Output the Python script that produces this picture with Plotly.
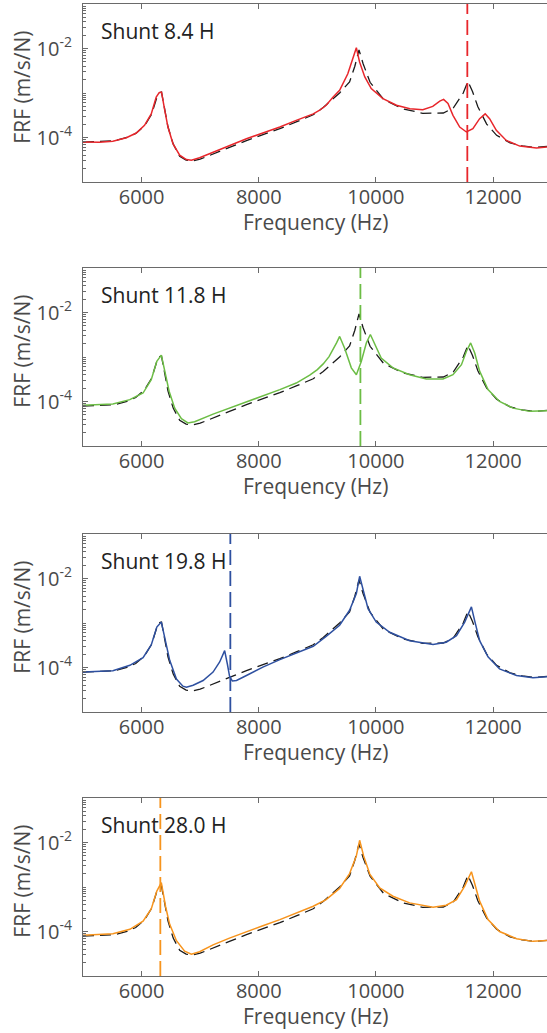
import plotly.graph_objects as go
from plotly.subplots import make_subplots

# ---------------- data ----------------
# reference FRF (black dashed), common to all panels
freq_ref = [5000, 5300, 5550, 5750, 5900, 6050, 6170, 6260, 6310, 6340, 6395, 6450, 6540, 6650,
            6760, 6860, 7000, 7220, 7500, 7790, 8070, 8360, 8640, 8930, 9100, 9210, 9380, 9550,
            9640, 9711, 9780, 9900, 10130, 10460, 10800, 11150, 11320, 11490, 11570, 11650,
            11740, 11890, 12060, 12290, 12500, 12700, 12920]
frf_ref = [7.9e-5, 8.1e-5, 8.5e-5, 1.0e-4, 1.23e-4, 1.82e-4, 3.3e-4, 7.9e-4, 1.02e-3, 1.05e-3,
           4.4e-4, 1.74e-4, 7.1e-5, 3.8e-5, 3.1e-5, 2.95e-5, 3.25e-5, 4.3e-5, 6.0e-5, 8.5e-5,
           1.15e-4, 1.58e-4, 2.24e-4, 3.24e-4, 4.7e-4, 6.3e-4, 1.0e-3, 1.78e-3, 4.0e-3, 9.3e-3,
           4.6e-3, 1.74e-3, 7.2e-4, 4.4e-4, 3.5e-4, 3.55e-4, 4.6e-4, 1.0e-3, 1.82e-3, 1.07e-3,
           4.9e-4, 2.0e-4, 1.12e-4, 7.6e-5, 6.5e-5, 6.0e-5, 6.3e-5]

# shunt 8.4 H (red)
freq_84 = [5000, 5280, 5510, 5740, 5910, 6050, 6165, 6250, 6300, 6340, 6395, 6450, 6535, 6650,
           6765, 6850, 6990, 7220, 7500, 7790, 8070, 8360, 8640, 8930, 9040, 9150, 9270, 9380,
           9520, 9610, 9666, 9720, 9810, 9920, 10120, 10350, 10580, 10800, 10970, 11090, 11155,
           11230, 11315, 11430, 11545, 11655, 11770, 11865, 11940, 12055, 12225, 12455, 12740, 12920]
frf_84 = [7.9e-5, 7.8e-5, 8.2e-5, 9.9e-5, 1.26e-4, 1.87e-4, 3.4e-4, 8.1e-4, 1.02e-3, 1.05e-3,
          4.1e-4, 1.72e-4, 7.3e-5, 4.0e-5, 3.2e-5, 3.07e-5, 3.5e-5, 4.7e-5, 6.7e-5, 9.4e-5,
          1.26e-4, 1.72e-4, 2.43e-4, 3.4e-4, 4.1e-4, 5.3e-4, 8.1e-4, 1.15e-3, 2.7e-3, 5.9e-3,
          1.04e-2, 5.0e-3, 2.3e-3, 1.26e-3, 7.5e-4, 5.3e-4, 4.45e-4, 4.2e-4, 5.0e-4, 6.6e-4,
          7.2e-4, 5.8e-4, 3.15e-4, 1.72e-4, 1.33e-4, 1.58e-4, 2.65e-4, 3.4e-4, 2.65e-4, 1.45e-4,
          8.6e-5, 6.4e-5, 5.8e-5, 6.1e-5]

# shunt 11.8 H (green)
freq_118 = [5000, 5510, 5800, 6025, 6165, 6260, 6337, 6395, 6470, 6565, 6680, 6790, 6905, 7220,
            7500, 7790, 8070, 8360, 8640, 8870, 9000, 9100, 9200, 9270, 9330, 9381, 9466, 9580,
            9666, 9750, 9836, 9905, 9980, 10090, 10290, 10575, 10860, 11145, 11315, 11460, 11545,
            11617, 11686, 11770, 11913, 12110, 12340, 12625, 12920]
frf_118 = [8.2e-5, 8.8e-5, 1.1e-4, 1.55e-4, 3.1e-4, 8.0e-4, 1.1e-3, 4.8e-4, 1.7e-4, 7.1e-5,
           4.1e-5, 3.3e-5, 3.5e-5, 5.2e-5, 7.1e-5, 9.5e-5, 1.3e-4, 1.85e-4, 2.6e-4, 3.9e-4,
           5.2e-4, 7.0e-4, 1.02e-3, 1.46e-3, 2.1e-3, 2.9e-3, 1.58e-3, 5.7e-4, 4.0e-4, 7.9e-4,
           2.07e-3, 3.2e-3, 1.9e-3, 9.5e-4, 5.7e-4, 4.0e-4, 3.2e-4, 3.2e-4, 4.0e-4, 6.7e-4,
           1.35e-3, 2.07e-3, 1.23e-3, 4.8e-4, 1.85e-4, 1.0e-4, 7.1e-5, 6.0e-5, 6.2e-5]

# shunt 19.8 H (blue)
freq_198 = [5000, 5510, 5800, 6025, 6165, 6260, 6337, 6395, 6480, 6595, 6705, 6765, 6880, 7050,
            7220, 7333, 7418, 7464, 7504, 7550, 7620, 7790, 8070, 8360, 8640, 8930, 9150, 9380,
            9550, 9666, 9722, 9780, 9865, 10005, 10235, 10575, 10975, 11200, 11375, 11515, 11630,
            11686, 11770, 11913, 12110, 12400, 12680, 12920]
frf_198 = [7.9e-5, 8.5e-5, 1.12e-4, 1.66e-4, 3.2e-4, 8.1e-4, 1.05e-3, 4.9e-4, 1.45e-4, 5.5e-5,
           3.8e-5, 3.6e-5, 4.0e-5, 5.1e-5, 7.9e-5, 1.33e-4, 2.4e-4, 1.2e-4, 6.1e-5, 5.0e-5,
           5.1e-5, 6.6e-5, 1.02e-4, 1.5e-4, 2.1e-4, 3.0e-4, 5.0e-4, 8.9e-4, 1.93e-3, 4.6e-3,
           1.12e-2, 5.4e-3, 2.1e-3, 1.05e-3, 6.2e-4, 4.0e-4, 3.3e-4, 3.7e-4, 5.2e-4, 1.05e-3,
           2.3e-3, 1.12e-3, 4.0e-4, 1.74e-4, 9.3e-5, 6.6e-5, 5.9e-5, 6.2e-5]

# shunt 28.0 H (orange)
freq_280 = [5000, 5510, 5800, 6025, 6165, 6260, 6337, 6410, 6480, 6595, 6735, 6850, 6990, 7220,
            7500, 7790, 8070, 8360, 8640, 8930, 9150, 9380, 9550, 9666, 9722, 9790, 9895, 10065,
            10290, 10575, 10975, 11200, 11375, 11515, 11630, 11686, 11770, 11913, 12110, 12400,
            12680, 12920]
frf_280 = [8.2e-5, 8.9e-5, 1.12e-4, 1.7e-4, 3.2e-4, 8.1e-4, 1.26e-3, 3.6e-4, 1.45e-4, 6.2e-5,
           3.6e-5, 3.1e-5, 3.5e-5, 5.0e-5, 7.1e-5, 1.0e-4, 1.35e-4, 1.85e-4, 2.6e-4, 3.7e-4,
           5.2e-4, 9.3e-4, 2.0e-3, 5.0e-3, 1.12e-2, 5.0e-3, 1.95e-3, 9.5e-4, 6.2e-4, 4.4e-4,
           3.5e-4, 3.9e-4, 5.2e-4, 1.05e-3, 2.2e-3, 1.26e-3, 4.8e-4, 1.85e-4, 1.0e-4, 6.9e-5,
           6.0e-5, 6.3e-5]

shunt_labels = ["Shunt 8.4 H", "Shunt 11.8 H", "Shunt 19.8 H", "Shunt 28.0 H"]
shunt_tuning_hz = [11560, 9735, 7515, 6320]
x_ticks = [6000, 8000, 10000, 12000]
x_ticktext = ["6000", "8000", "10000", "12000"]
y_ticks = [1e-4, 1e-2]
y_ticktext = ["10<sup>-4</sup>", "10<sup>-2</sup>"]

# ---------------- styling ----------------
colors = ["#e8262b", "#6cbd45", "#2e50a0", "#f7941d"]
series = [(freq_84, frf_84), (freq_118, frf_118), (freq_198, frf_198), (freq_280, frf_280)]
FONT = "Open Sans"
AXC = "#6a6a6a"
TXT = "#4a4a4a"
W, H = 547, 1033
panel_tops = [4, 268, 534, 798]
panel_h = 178

fig = make_subplots(rows=4, cols=1)

for i, ((fx, fy), col) in enumerate(zip(series, colors)):
    r = i + 1
    fig.add_trace(go.Scatter(x=freq_ref, y=frf_ref, mode="lines",
                             line=dict(color="#1a1a1a", width=1.3, dash="11px,6px"),
                             showlegend=False, hoverinfo="skip"), row=r, col=1)
    fig.add_trace(go.Scatter(x=fx, y=fy, mode="lines",
                             line=dict(color=col, width=1.5),
                             showlegend=False), row=r, col=1)

    top = panel_tops[i]
    dom = [1 - (top + panel_h) / H, 1 - top / H]
    xa = "xaxis" if r == 1 else f"xaxis{r}"
    ya = "yaxis" if r == 1 else f"yaxis{r}"
    fig.layout[xa].update(domain=[0, 1], range=[5000, 12920], tickmode="array",
                          tickvals=x_ticks, ticktext=x_ticktext, automargin=False,
                          ticks="inside", ticklen=5, tickcolor=AXC, showline=True,
                          linecolor=AXC, linewidth=1, mirror="ticks", showgrid=False,
                          zeroline=False, tickfont=dict(family=FONT, size=20, color=TXT),
                          ticklabelstandoff=-3)
    fig.layout[ya].update(domain=dom, type="log", range=[-5, -1], tickmode="array",
                          tickvals=y_ticks, ticktext=y_ticktext, automargin=False,
                          ticks="inside", ticklen=5, tickcolor=AXC,
                          showline=True, linecolor=AXC, linewidth=1, showgrid=False,
                          zeroline=False, tickfont=dict(family=FONT, size=20, color=TXT),
                          ticklabelstandoff=6,
                          minor=dict(ticks="inside", ticklen=3, tickcolor=AXC, dtick="D1",
                                     showgrid=False))

    xd = "x domain" if r == 1 else f"x{r} domain"
    yd = "y domain" if r == 1 else f"y{r} domain"
    xr = "x" if r == 1 else f"x{r}"
    # shunt tuning frequency marker
    fig.add_shape(type="line", xref=xr, yref=yd, x0=shunt_tuning_hz[i], x1=shunt_tuning_hz[i],
                  y0=0, y1=1, line=dict(color=col, width=1.8, dash="15px,6px"), layer="above")
    # panel label
    fig.add_annotation(xref=xd, yref=yd, x=(99 - 83) / 464, y=(panel_h - 27) / panel_h,
                       text=shunt_labels[i], showarrow=False, xanchor="left", yanchor="middle",
                       font=dict(family=FONT, size=21, color="#222222"))
    # axis titles
    fig.add_annotation(xref=xd, yref=yd, x=0.5, y=-40 / panel_h, text="Frequency (Hz)",
                       showarrow=False, xanchor="center", yanchor="middle",
                       font=dict(family=FONT, size=21, color=TXT))
    fig.add_annotation(xref=xd, yref=yd, x=(22 - 83) / 464, y=0.53, text="FRF (m/s/N)",
                       textangle=-90, showarrow=False, xanchor="center", yanchor="middle",
                       font=dict(family=FONT, size=21, color=TXT))

fig.update_layout(template="none", width=W, height=H, margin=dict(l=83, r=0, t=0, b=0),
                  paper_bgcolor="white", plot_bgcolor="white", showlegend=False)

fig.write_html("out.html", config={"displayModeBar": False},
               post_script="document.body.style.margin='0px';document.body.style.overflow='hidden';")
